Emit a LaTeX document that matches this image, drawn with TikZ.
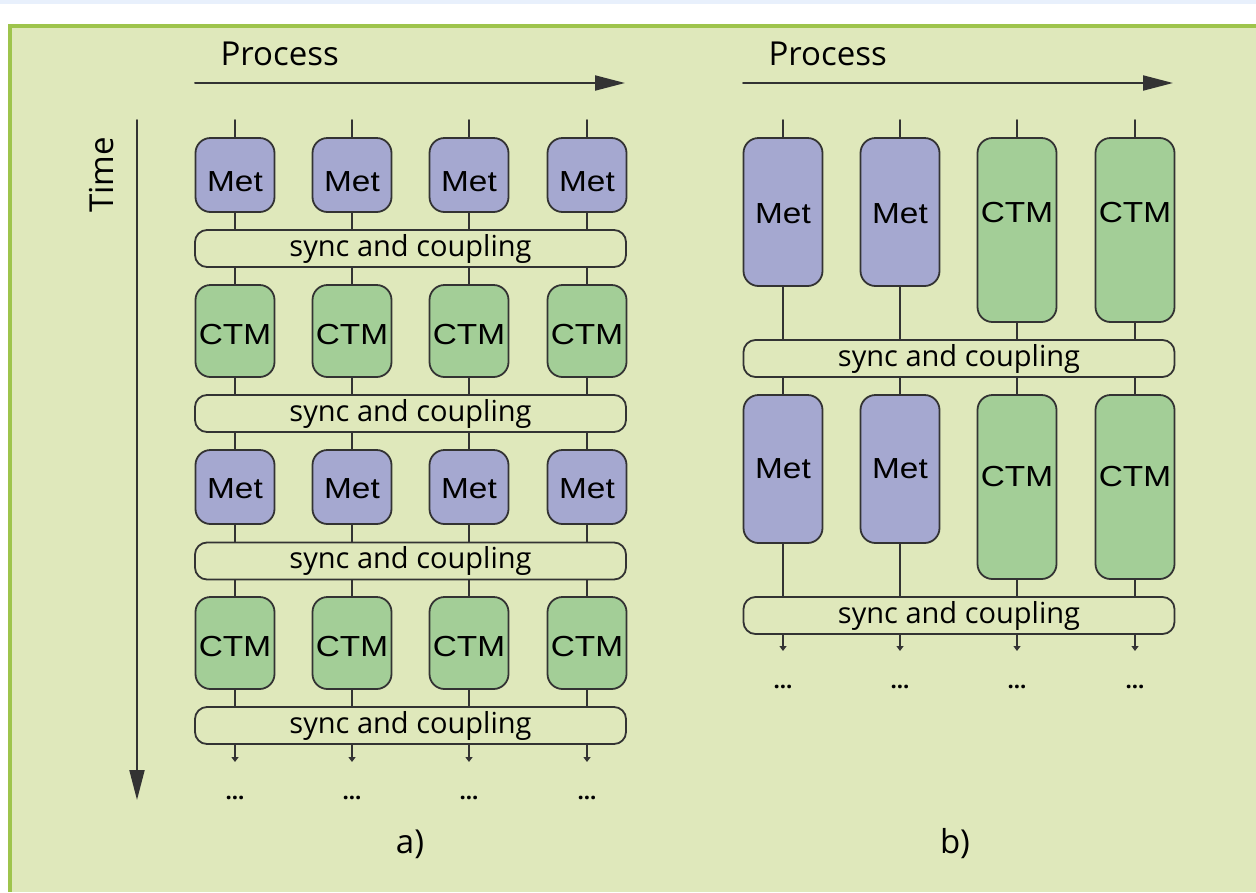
\documentclass[tikz,border=0pt]{standalone}
\usepackage{fontspec}
\setmainfont{Open Sans}
\newfontfamily\boxfont[FakeStretch=1.15]{Liberation Sans}
\usetikzlibrary{arrows.meta}
\definecolor{stripblue}{rgb}{0.91,0.94,0.99}
\definecolor{framegreen}{rgb}{0.62,0.77,0.30}
\definecolor{panelgreen}{rgb}{0.875,0.91,0.733}
\definecolor{metblue}{rgb}{0.647,0.659,0.816}
\definecolor{ctmgreen}{rgb}{0.639,0.808,0.592}
\definecolor{darkline}{rgb}{0.2,0.2,0.2}
\newcommand{\lift}[2]{\raisebox{#1}[\height][\depth]{#2}}

\begin{document}
\begin{tikzpicture}[x=1pt,y=-1pt,line cap=round,line join=round,
  unitbox/.style={draw=darkline,line width=1.8pt,rounded corners=15pt,minimum width=79pt,inner sep=0pt,font=\boxfont\fontsize{29}{29}\selectfont},
  met/.style={unitbox,fill=metblue,minimum height=#1},
  ctm/.style={unitbox,fill=ctmgreen,minimum height=#1},
  sync/.style={draw=darkline,line width=1.8pt,fill=panelgreen,rounded corners=12pt,minimum width=431pt,minimum height=37pt,inner sep=0pt,font=\fontsize{29}{29}\selectfont},
  wire/.style={draw=darkline,line width=1.8pt},
  bigarrow/.style={draw=darkline,line width=2pt,-{Triangle[length=30pt,width=15pt]}},
  smallarrow/.style={wire,-{Triangle[length=5pt,width=7pt]}},
  dots/.style={anchor=base,font=\bfseries\fontsize{22}{22}\selectfont},
  title/.style={font=\fontsize{33}{33}\selectfont}]
\useasboundingbox (0,0) rectangle (1256,892);
\fill[stripblue] (0,0) rectangle (1256,4);
\fill[framegreen] (8,24) rectangle (1256,892);
\fill[panelgreen] (12,28) rectangle (1256,892);

% axes
\node[title,anchor=base west] (procA) at (217,65) {Process};
\node[title,anchor=base west] (procB) at (765,65) {Process};
\node[title,rotate=90] (time) at (102,175) {Time};
\coordinate (pa0) at (195,83);
\coordinate (pa1) at (625,83);
\coordinate (pb0) at (743,83);
\coordinate (pb1) at (1173,83);
\coordinate (t0) at (137,120);
\coordinate (t1) at (137,800);
\draw[bigarrow] (pa0) -- (pa1);
\draw[bigarrow] (pb0) -- (pb1);
\draw[bigarrow] (t0) -- (t1);

% a)
\node[sync] (as1) at (410.5,248.5) {sync and coupling};
\node[sync] (as2) at (410.5,413.5) {sync and coupling};
\node[sync] (as3) at (410.5,561) {sync and coupling};
\node[sync] (as4) at (410.5,725.5) {sync and coupling};
\foreach \c/\x in {1/235,2/352,3/469,4/587}{
  \node[met=74] (am1\c) at (\x,175) {\lift{-7pt}{Met}};
  \node[ctm=92] (ac2\c) at (\x,331) {\lift{-4pt}{CTM}};
  \node[met=74] (am3\c) at (\x,487) {\lift{-2pt}{Met}};
  \node[ctm=92] (ac4\c) at (\x,643) {\lift{-4pt}{CTM}};
  \coordinate (atop\c) at (\x,120);
  \coordinate (aend\c) at (\x,762);
  \draw[wire] (atop\c) -- (am1\c);
  \draw[wire] (am1\c) -- (am1\c |- as1.north);
  \draw[wire] (ac2\c |- as1.south) -- (ac2\c);
  \draw[wire] (ac2\c) -- (ac2\c |- as2.north);
  \draw[wire] (am3\c |- as2.south) -- (am3\c);
  \draw[wire] (am3\c) -- (am3\c |- as3.north);
  \draw[wire] (ac4\c |- as3.south) -- (ac4\c);
  \draw[wire] (ac4\c) -- (ac4\c |- as4.north);
  \draw[smallarrow] (aend\c |- as4.south) -- (aend\c);
  \node[dots] (adot\c) at (\x,799) {...};
}
\node[title,anchor=base] (capA) at (410,853) {a)};

% b)
\node[sync] (bs1) at (959,358.5) {sync and coupling};
\node[sync] (bs2) at (959,615.5) {sync and coupling};
\foreach \c/\x in {1/783,2/900}{
  \node[met=148] (bu\c) at (\x,212) {\lift{-2pt}{Met}};
  \node[met=148] (bl\c) at (\x,469) {Met};
}
\foreach \c/\x in {3/1017,4/1135}{
  \node[ctm=184] (bu\c) at (\x,230) {\lift{17pt}{CTM}};
  \node[ctm=184] (bl\c) at (\x,487) {\lift{10pt}{CTM}};
}
\foreach \c/\x in {1/783,2/900,3/1017,4/1135}{
  \coordinate (btop\c) at (\x,120);
  \coordinate (bend\c) at (\x,651);
  \draw[wire] (btop\c) -- (bu\c);
  \draw[wire] (bu\c) -- (bu\c |- bs1.north);
  \draw[wire] (bl\c |- bs1.south) -- (bl\c);
  \draw[wire] (bl\c) -- (bl\c |- bs2.north);
  \draw[smallarrow] (bend\c |- bs2.south) -- (bend\c);
  \node[dots] (bdot\c) at (\x,688) {...};
}
\node[title,anchor=base] (capB) at (955,853) {b)};
\end{tikzpicture}
\end{document}
